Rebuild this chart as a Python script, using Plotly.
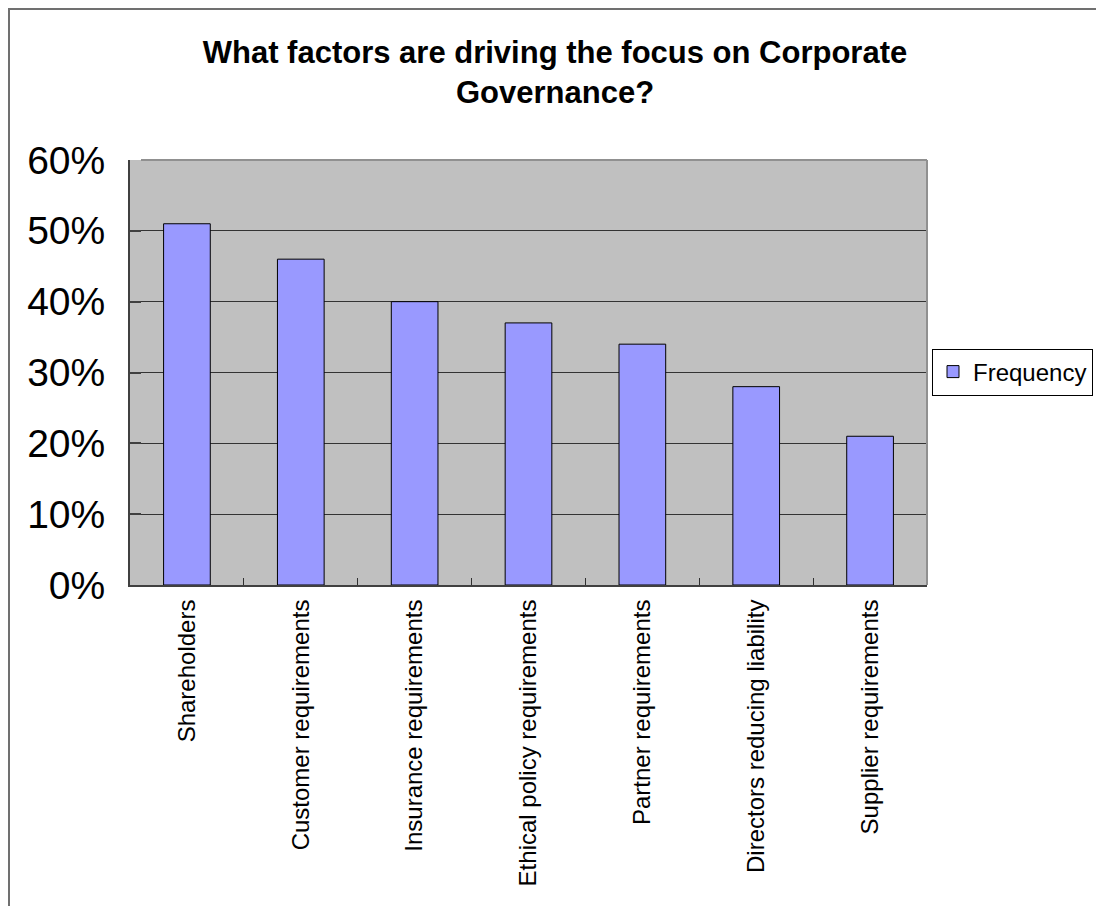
import plotly.graph_objects as go

# Survey results: share of respondents citing each factor
categories = [
    "Shareholders",
    "Customer requirements",
    "Insurance requirements",
    "Ethical policy requirements",
    "Partner requirements",
    "Directors reducing liability",
    "Supplier requirements",
]
frequency = [0.51, 0.46, 0.40, 0.37, 0.34, 0.28, 0.21]
y_ticks = [0, 0.1, 0.2, 0.3, 0.4, 0.5, 0.6]
y_tick_labels = ["0%", "10%", "20%", "30%", "40%", "50%", "60%"]

W, H = 1096, 906
L, R, T, B = 130, 927, 160, 585
FONT = "Liberation Sans, Arial, sans-serif"


def px_x(p):
    return (p - L) / (R - L)


def px_y(p):
    return (B - p) / (B - T)


fig = go.Figure()
fig.add_trace(go.Bar(
    x=categories,
    y=frequency,
    name="Frequency",
    marker=dict(color="#9999FF", line=dict(color="#000000", width=1)),
    showlegend=True,
))

fig.update_layout(
    width=W,
    height=H,
    margin=dict(l=L, r=W - R, t=T, b=H - B, pad=0, autoexpand=False),
    paper_bgcolor="white",
    plot_bgcolor="#C0C0C0",
    bargap=0.59,
    font=dict(family=FONT, color="black"),
    title=dict(
        text="<b>What factors are driving the focus on Corporate<br>Governance?</b>",
        x=555 / W,
        xanchor="center",
        xref="container",
        y=1 - 63 / H,
        yanchor="top",
        yref="container",
        font=dict(family=FONT, size=31, color="black"),
    ),
    legend=dict(
        x=px_x(932),
        xanchor="left",
        y=px_y(372),
        yanchor="middle",
        bgcolor="white",
        bordercolor="black",
        borderwidth=1,
        font=dict(family=FONT, size=24, color="black"),
        itemwidth=30,
        tracegroupgap=0,
    ),
)

fig.update_xaxes(
    type="category",
    tickangle=-90,
    tickson="boundaries",
    ticks="inside",
    ticklen=7,
    tickcolor="#303030",
    tickwidth=1,
    showline=True,
    linecolor="#404040",
    linewidth=2,
    showgrid=False,
    tickfont=dict(family=FONT, size=24, color="black"),
    ticklabelstandoff=3,
)

fig.update_yaxes(
    range=[0, 0.6],
    tickvals=y_ticks,
    ticktext=y_tick_labels,
    ticks="inside",
    ticklen=11,
    tickcolor="#404040",
    tickwidth=2,
    showline=True,
    linecolor="#404040",
    linewidth=2,
    showgrid=True,
    gridcolor="#333333",
    gridwidth=1,
    zeroline=False,
    tickfont=dict(family=FONT, size=39, color="black"),
    ticklabelstandoff=15,
)

# Plot area top and right edges in light grey
fig.add_shape(type="line", xref="paper", yref="paper", x0=px_x(141), x1=1, y0=1, y1=1,
              line=dict(color="#909090", width=2), layer="above")
fig.add_shape(type="line", xref="paper", yref="paper", x0=1, x1=1, y0=0, y1=1,
              line=dict(color="#909090", width=2), layer="above")

# Outer chart frame
fig.add_shape(type="rect", xref="paper", yref="paper",
              x0=px_x(9), x1=px_x(W + 10), y0=px_y(H + 10), y1=px_y(9),
              line=dict(color="#707070", width=2), fillcolor="rgba(0,0,0,0)", layer="below")

fig.write_html("out.html")
